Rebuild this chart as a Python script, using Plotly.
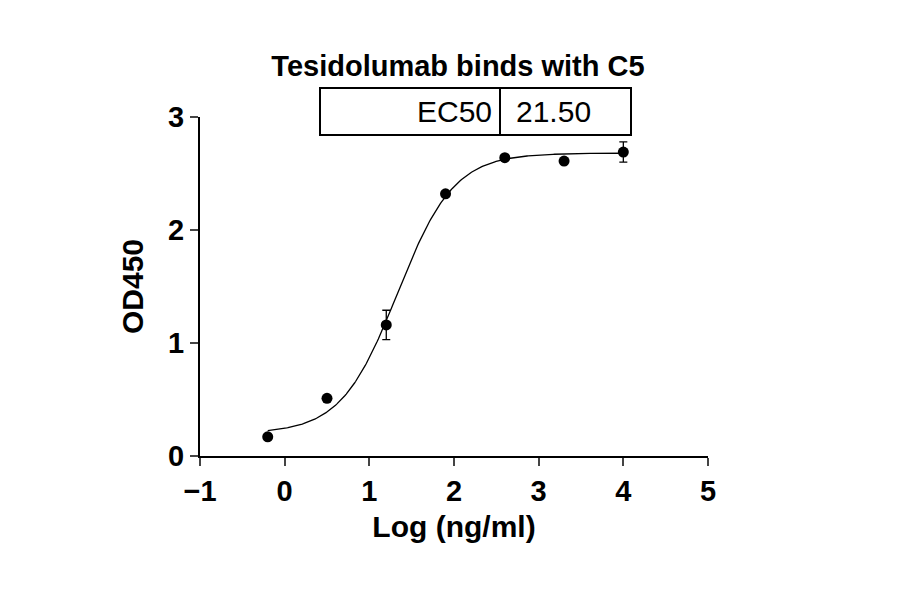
import numpy as np
import plotly.graph_objects as go

log_conc = [-0.2, 0.5, 1.2, 1.9, 2.6, 3.3, 4.0]
od450 = [0.17, 0.51, 1.16, 2.32, 2.64, 2.61, 2.69]
err = [0.02, 0.02, 0.13, 0.02, 0.02, 0.02, 0.09]
# 4PL fit parameters
bottom, top, ec50, hill = 0.2, 2.68, 21.50, 1.3

xf = np.linspace(-0.2, 4.0, 300)
yf = bottom + (top - bottom) / (1 + 10 ** ((np.log10(ec50) - xf) * hill))

fig = go.Figure()
fig.add_trace(go.Scatter(x=xf, y=yf, mode="lines", line=dict(color="black", width=1.3), showlegend=False))
fig.add_trace(go.Scatter(x=log_conc, y=od450, mode="markers",
    marker=dict(color="black", size=11),
    error_y=dict(type="data", array=err, color="black", thickness=1.3, width=4),
    showlegend=False))

f = "Arial, Liberation Sans"
fig.update_layout(
    width=900, height=594, plot_bgcolor="white", paper_bgcolor="white",
    margin=dict(l=192, r=200, t=109, b=146),
    title=dict(text="<b>Tesidolumab binds with C5</b>", x=0.5, xanchor="center", y=0.92,
               font=dict(family=f, size=29, color="black")),
    xaxis=dict(range=[-1, 5], tickvals=[-1, 0, 1, 2, 3, 4, 5], ticks="outside", ticklen=8, tickwidth=2,
               showline=True, linewidth=2, linecolor="black", showgrid=False, zeroline=False,
               tickfont=dict(family=f, size=29, color="black", weight="bold"),
               title=dict(text="<b>Log (ng/ml)</b>", font=dict(family=f, size=30, color="black"), standoff=10)),
    yaxis=dict(range=[0, 3], tickvals=[0, 1, 2, 3], ticks="outside", ticklen=8, tickwidth=2,
               showline=True, linewidth=2, linecolor="black", showgrid=False, zeroline=False,
               tickfont=dict(family=f, size=29, color="black", weight="bold"),
               title=dict(text="<b>OD450</b>", font=dict(family=f, size=30, color="black"), standoff=16)),
)

# EC50 table box (paper coords)
L, R, T, B = 192, 700, 109, 448
def px(xp): return (xp - L) / (R - L)
def py(yp): return (B - yp) / (B - T)
fig.add_shape(type="rect", xref="paper", yref="paper", x0=px(312), x1=px(623), y0=py(127), y1=py(80),
              line=dict(color="black", width=2))
fig.add_shape(type="line", xref="paper", yref="paper", x0=px(492), x1=px(492), y0=py(127), y1=py(80),
              line=dict(color="black", width=2))
fig.add_annotation(xref="paper", yref="paper", x=px(486), y=py(104), text="EC50", showarrow=False,
                   xanchor="right", yanchor="middle", font=dict(family=f, size=30, color="black"))
fig.add_annotation(xref="paper", yref="paper", x=px(506), y=py(104), text=f"{ec50:.2f}", showarrow=False,
                   xanchor="left", yanchor="middle", font=dict(family=f, size=30, color="black"))

fig.write_html("out.html")
